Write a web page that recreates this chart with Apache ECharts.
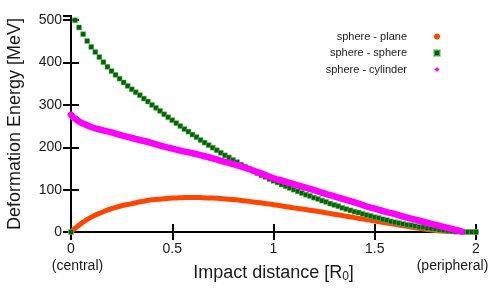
<!DOCTYPE html>
<html>
<head>
<meta charset="utf-8">
<script src="https://cdn.jsdelivr.net/npm/echarts@6/dist/echarts.min.js"></script>
<style>
html,body{margin:0;padding:0;background:#fff;}
#chart{width:500px;height:300px;}
</style>
</head>
<body>
<div id="chart"></div>
<script>
// ---- data ----
const seriesNames = ['sphere - plane', 'sphere - sphere', 'sphere - cylinder'];
const xTickLabels = {0: '0', 0.5: '0.5', 1: '1', 1.5: '1.5', 2: '2'};
const xTickNotes = {0: '(central)', 2: '(peripheral)'};

const planeX = [0,0.05,0.1,0.15,0.2,0.25,0.3,0.35,0.4,0.45,0.5,0.55,0.6,0.65,0.7,0.75,0.8,0.85,0.9,0.95,1.0,1.05,1.1,1.15,1.2,1.25,1.3,1.35,1.4,1.45,1.5,1.55,1.6,1.65,1.7,1.75,1.8,1.85,1.9,1.95,2.0];
const planeE = [0,20,35,46,55,62,67,72,76,78,80,81,81.5,81,80,78.5,76.5,74,71,68,64.5,61,57,53.5,50,46,42,38,34,30,26,22,18,14,10,6.5,3.5,1.5,0.5,0,0];

const sphereStep = 0.02;
const sphereE = [0,500,483,467,451,437,425,413,401,390,380,371,362,353,345,337,330,323,315,308,300,
  293,286,278,271,264,257,250,243,237,230,224,217,211,205,199,193,187,181,176,170,
  165,159,154,149,144,139,134,130,125,121,117,112,108,104,100,96,92,88,85,81,
  78,74,71,67,64,61,57,54,51,48,46,43,40,38,35,33,30,28,25,23,
  21,19,17,16,14,12,11,9,8,7,5,4,3,2,1,1,0,0,0,0];

const cylX = [0,0.01,0.02,0.03,0.05,0.07,0.1,0.15,0.2,0.25,0.3,0.35,0.4,0.45,0.5,0.55,0.6,0.65,0.7,0.75,0.8,0.85,0.9,0.95,1.0,1.05,1.1,1.15,1.2,1.25,1.3,1.35,1.4,1.45,1.5,1.55,1.6,1.65,1.7,1.75,1.8,1.85,1.9,1.93];
const cylE = [277,271,268,264,258,254,248,241,235,228,222,216,210,203,197,191,186,180,174,167,160,153,145,136,127,120,113,106,99,91,84,77,70,62,55,48,42,35,29,23,17,11,5,1];

// ---- build ----
const planeData = planeX.map((x, i) => [x, planeE[i]]);
const sphereData = sphereE.map((v, i) => [+(i * sphereStep).toFixed(2), v]);
const cylData = cylX.map((x, i) => [x, cylE[i]]);

const FONT = 'Liberation Sans, Arial, sans-serif';
const TXT = '#1a1a1a';
const starPath = 'path://M0,-10 L2.5,-4 L7,-7 L4,-2.5 L10,0 L4,2.5 L7,7 L2.5,4 L0,10 L-2.5,4 L-7,7 L-4,2.5 L-10,0 L-4,-2.5 L-7,-7 L-2.5,-4 Z';
const squarePath = 'path://M0,0 L10,0 L10,10 L0,10 Z';

const chart = echarts.init(document.getElementById('chart'), null, {renderer: 'canvas'});
const axisLine = {show: true, lineStyle: {color: '#000', width: 2}};
const tickIn = {show: true, inside: true, length: 8, lineStyle: {color: '#000', width: 2}};

chart.setOption({
  animation: false,
  backgroundColor: '#fff',
  textStyle: {fontFamily: FONT},
  grid: {left: 71, right: 24, top: 16, bottom: 68, containLabel: false, outerBoundsMode: 'none'},
  legend: {
    right: 54, top: 26, orient: 'vertical', align: 'right',
    itemWidth: 50, itemHeight: 6, itemGap: 5.5,
    textStyle: {fontSize: 11, color: TXT, fontFamily: FONT},
    data: [
      {name: seriesNames[0], icon: 'circle'},
      {name: seriesNames[1], icon: squarePath},
      {name: seriesNames[2], icon: starPath}
    ]
  },
  xAxis: [{
    type: 'value', min: 0, max: 2, interval: 0.5,
    axisLine: axisLine, axisTick: tickIn, splitLine: {show: false},
    axisLabel: {
      margin: 9, color: TXT, fontSize: 14, fontFamily: FONT, lineHeight: 17,
      formatter: v => {
        const main = xTickLabels[v] || '';
        if (v === 0) return main + '\n{c|' + xTickNotes[0] + '}';
        if (v === 2) return main + '\n{p|' + xTickNotes[2] + '}';
        return main;
      },
      rich: {
        c: {fontSize: 14, color: TXT, fontFamily: FONT, lineHeight: 17, padding: [0, 0, 0, 13]},
        p: {fontSize: 14, color: TXT, fontFamily: FONT, lineHeight: 17, padding: [0, 47, 0, 0]}
      }
    },
    name: 'Impact distance [R{sub|0}]', nameLocation: 'middle', nameGap: 31, nameMoveOverlap: false,
    nameTextStyle: {fontSize: 18, color: TXT, fontFamily: FONT,
      rich: {sub: {fontSize: 12, color: TXT, fontFamily: FONT, verticalAlign: 'bottom', padding: [8, 0, 0, 0]}}}
  }, {
    type: 'value', min: 0, max: 2, interval: 0.5, position: 'top',
    axisLine: axisLine, axisTick: tickIn, axisLabel: {show: false}, splitLine: {show: false}
  }],
  yAxis: [{
    type: 'value', min: 0, max: 510, interval: 100,
    axisLine: axisLine, axisTick: tickIn, splitLine: {show: false},
    axisLabel: {margin: 9, color: TXT, fontSize: 14, fontFamily: FONT, showMaxLabel: false,
      formatter: v => (v % 100 === 0 ? String(v) : '')},
    name: 'Deformation Energy [MeV]', nameLocation: 'middle', nameGap: 47, nameMoveOverlap: false,
    nameTextStyle: {fontSize: 18, color: TXT, fontFamily: FONT}
  }, {
    type: 'value', min: 0, max: 510, interval: 100, position: 'right',
    axisLine: axisLine, axisTick: tickIn, axisLabel: {show: false}, splitLine: {show: false}
  }],
  series: [{
    name: seriesNames[0], type: 'line', data: planeData, showSymbol: false, symbol: 'circle',
    smooth: true, lineStyle: {color: '#ff4500', width: 5, cap: 'round'}, itemStyle: {color: '#ff4500'}, z: 2
  }, {
    name: seriesNames[1], type: 'scatter', data: sphereData, symbol: 'rect', symbolSize: 5,
    itemStyle: {color: '#006400', borderColor: 'rgba(120,190,120,0.6)', borderWidth: 0.8, opacity: 1}, z: 3
  }, {
    name: seriesNames[2], type: 'line', data: cylData, showSymbol: false, symbol: starPath,
    smooth: true, lineStyle: {color: '#ff00ff', width: 6.5, cap: 'round'}, itemStyle: {color: '#ff00ff'}, z: 4
  }]
});
</script>
</body>
</html>
